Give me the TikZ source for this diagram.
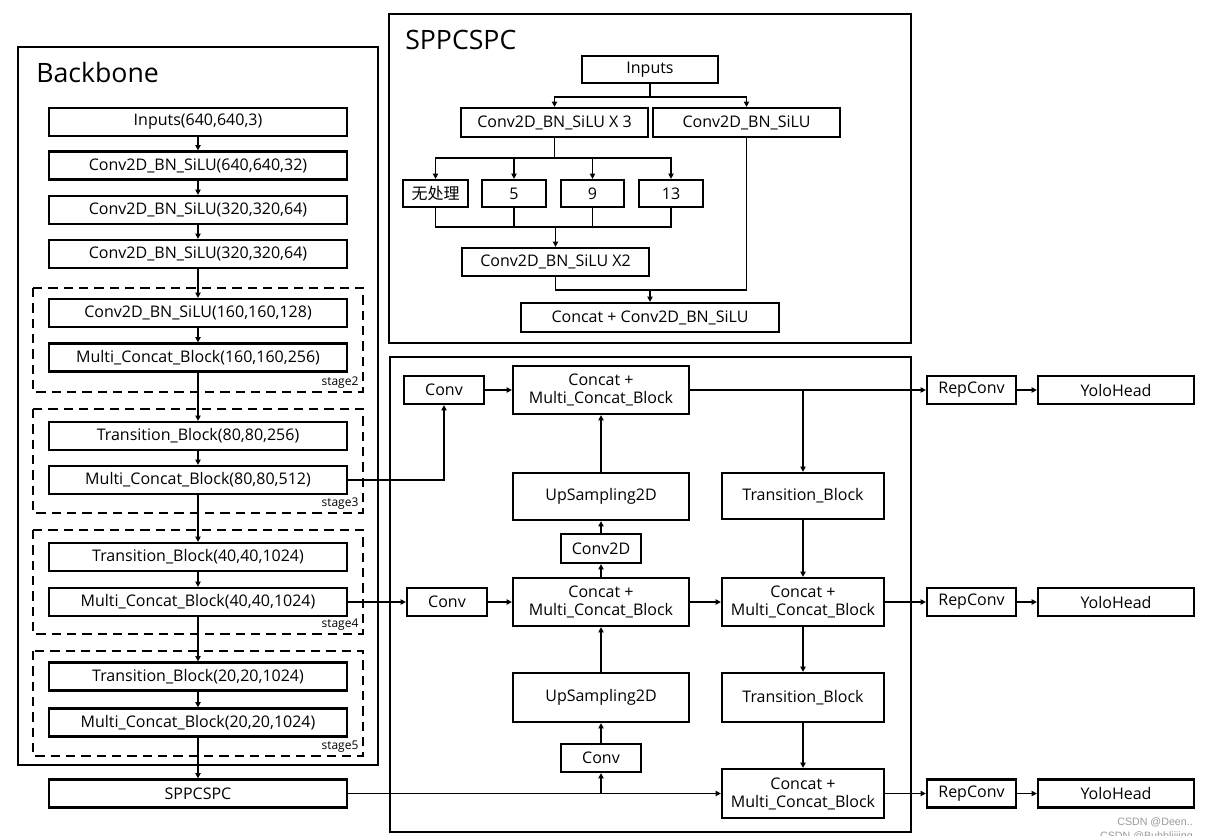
\documentclass[tikz,border=0pt]{standalone}
\usepackage{fontspec}
\setmainfont{Open Sans}
\newfontfamily\cjk{Noto Sans CJK SC}
\newfontfamily\wmfont{Liberation Sans}
\usetikzlibrary{arrows.meta}

\begin{document}
\begin{tikzpicture}[x=0.75pt, y=-0.75pt,
	blk/.style 2 args={draw, line width=1.7pt, minimum width=#1, minimum height=#2, inner sep=0pt, align=center, font=\fontsize{12}{13.5}\selectfont},
	bb/.style={blk={223.5pt}{21pt}},
	title/.style={font=\fontsize{20}{24}\selectfont, inner sep=0pt},
	stg/.style={font=\fontsize{9}{10}\selectfont, inner sep=1pt},
	wm/.style={font=\wmfont\fontsize{8}{9}\selectfont, text=black!40, inner sep=0pt},
	outerbox/.style={draw, line width=1.7pt},
	stage/.style={draw, line width=1.7pt, dash pattern=on 7pt off 4.5pt},
	ln/.style={line width=1.3pt},
	arr/.style={line width=1.3pt, -{Triangle[length=4pt,width=4pt]}}]
	\useasboundingbox (0,0) rectangle (1209,835);

	% frames
	\draw[outerbox] (18,47) rectangle (378,765);
	\draw[outerbox] (389,14) rectangle (911,343);
	\draw[outerbox] (390,357) rectangle (911,832);
	\draw[stage] (33,288) rectangle (363,392);
	\draw[stage] (33,409) rectangle (363,513);
	\draw[stage] (33,530) rectangle (363,634);
	\draw[stage] (33,651) rectangle (363,756);

	\node[title, anchor=base west] (bbt) at (36,82) {Backbone};
	\node[title, anchor=base west] (spt) at (405,49) {SPPCSPC};
	\node[stg, anchor=south east] (s2) at (360,390) {stage2};
	\node[stg, anchor=south east] (s3) at (360,511) {stage3};
	\node[stg, anchor=south east] (s4) at (360,632) {stage4};
	\node[stg, anchor=south east] (s5) at (360,754) {stage5};

	% backbone
	\node[bb] (inp) at (198,122) {Inputs(640,640,3)};
	\node[bb] (c1) at (198,165.5) {Conv2D\_BN\_SiLU(640,640,32)};
	\node[bb] (c2) at (198,210) {Conv2D\_BN\_SiLU(320,320,64)};
	\node[bb] (c3) at (198,254) {Conv2D\_BN\_SiLU(320,320,64)};
	\node[bb] (c4) at (198,313) {Conv2D\_BN\_SiLU(160,160,128)};
	\node[bb] (m2) at (198,357.5) {Multi\_Concat\_Block(160,160,256)};
	\node[bb] (t3) at (198,436) {Transition\_Block(80,80,256)};
	\node[bb] (m3) at (198,480) {Multi\_Concat\_Block(80,80,512)};
	\node[bb] (t4) at (198,557) {Transition\_Block(40,40,1024)};
	\node[bb] (m4) at (198,602) {Multi\_Concat\_Block(40,40,1024)};
	\node[bb] (t5) at (198,676.5) {Transition\_Block(20,20,1024)};
	\node[bb] (m5) at (198,722.5) {Multi\_Concat\_Block(20,20,1024)};
	\node[bb] (spp) at (198,793.5) {SPPCSPC};
	\foreach \a/\b in {inp/c1,c1/c2,c2/c3,c3/c4,c4/m2,m2/t3,t3/m3,m3/t4,t4/m4,m4/t5,t5/m5,m5/spp}
		\draw[arr] (\a) -- (\b);

	% sppcspc
	\node[blk={102pt}{20.25pt}] (sin) at (650,69.5) {Inputs};
	\node[blk={140.25pt}{21.75pt}] (sx3) at (554.5,122.5) {Conv2D\_BN\_SiLU X 3};
	\node[blk={140.25pt}{21.75pt}] (ss) at (746.5,122.5) {Conv2D\_BN\_SiLU};
	\node[blk={48.75pt}{20.25pt}] (p0) at (435.5,193.5) {\cjk 无处理};
	\node[blk={48pt}{20.25pt}] (p5) at (514,193.5) {5};
	\node[blk={47.25pt}{20.25pt}] (p9) at (592.5,193.5) {9};
	\node[blk={48pt}{20.25pt}] (p13) at (671,193.5) {13};
	\node[blk={140.25pt}{21pt}] (sx2) at (555.5,262) {Conv2D\_BN\_SiLU X2};
	\node[blk={193.5pt}{21.75pt}] (scat) at (650,317.5) {Concat + Conv2D\_BN\_SiLU};
	\coordinate (j1) at (555.5,227);
	\coordinate (j2) at (650,290);

	\draw[arr] (sin.south) -- ++(0,13) -| (sx3.north);
	\draw[arr] (sin.south) -- ++(0,13) -| (ss.north);
	\foreach \p in {p0,p5,p9,p13}
		\draw[arr] (sx3.south) -- ++(0,20) -| (\p.north);
	\foreach \p in {p0,p5,p9,p13}
		\draw[ln] (\p.south) |- (j1);
	\draw[arr] (j1) -- (sx2.north);
	\draw[ln] (sx2.south) |- (j2);
	\draw[ln] (ss.south) |- (j2);
	\draw[arr] (j2) -- (scat.north);

	% neck
	\node[blk={60pt}{21pt}] (cv1) at (444,390) {Conv};
	\node[blk={132pt}{36pt}] (cm1) at (601,390) {Concat +\\Multi\_Concat\_Block};
	\node[blk={132pt}{35.25pt}] (up1) at (601,496.5) {UpSampling2D};
	\node[blk={60pt}{21.75pt}] (c2d) at (601,548.5) {Conv2D};
	\node[blk={132pt}{36pt}] (cm2) at (601,602) {Concat +\\Multi\_Concat\_Block};
	\node[blk={60pt}{21pt}] (cv2) at (447,602) {Conv};
	\node[blk={132pt}{36.75pt}] (up2) at (601,697.5) {UpSampling2D};
	\node[blk={60pt}{21pt}] (cv3) at (601,758) {Conv};
	\node[blk={121.5pt}{34.5pt}] (tb1) at (803,496) {Transition\_Block};
	\node[blk={121.5pt}{36pt}] (cm3) at (803,602) {Concat +\\Multi\_Concat\_Block};
	\node[blk={121.5pt}{36.75pt}] (tb2) at (803,697.5) {Transition\_Block};
	\node[blk={121.5pt}{36.75pt}] (cm4) at (803,793.5) {Concat +\\Multi\_Concat\_Block};

	\draw[arr] (m3.east) -| (cv1.south);
	\draw[arr] (cv1) -- (cm1);
	\draw[arr] (up1) -- (cm1);
	\draw[arr] (c2d) -- (up1);
	\draw[arr] (cm2) -- (c2d);
	\draw[arr] (up2) -- (cm2);
	\draw[arr] (cv3) -- (up2);
	\draw[arr] (m4) -- (cv2);
	\draw[arr] (cv2) -- (cm2);
	\draw[arr] (spp) -- (cm4);
	\draw[arr] (cv3.south |- spp.east) -- (cv3.south);
	\draw[arr] (tb1.north |- cm1.east) -- (tb1.north);
	\draw[arr] (tb1) -- (cm3);
	\draw[arr] (cm2) -- (cm3);
	\draw[arr] (cm3) -- (tb2);
	\draw[arr] (tb2) -- (cm4);

	% head
	\node[blk={66.75pt}{21pt}] (rc1) at (971.5,390) {RepConv};
	\node[blk={66.75pt}{21pt}] (rc2) at (971.5,602) {RepConv};
	\node[blk={66.75pt}{21pt}] (rc3) at (971.5,793.5) {RepConv};
	\node[blk={117pt}{21pt}] (yh1) at (1116,390) {YoloHead};
	\node[blk={117pt}{21pt}] (yh2) at (1116,602) {YoloHead};
	\node[blk={117pt}{21pt}] (yh3) at (1116,793.5) {YoloHead};
	\draw[arr] (cm1) -- (rc1);
	\draw[arr] (cm3) -- (rc2);
	\draw[arr] (cm4) -- (rc3);
	\foreach \i in {1,2,3}
		\draw[arr] (rc\i) -- (yh\i);

	\node[wm, anchor=base east] (wm1) at (1193,825) {CSDN @Deen..};
	\node[wm, anchor=base east] (wm2) at (1193,839) {CSDN @Bubbliiiing};
\end{tikzpicture}
\end{document}
